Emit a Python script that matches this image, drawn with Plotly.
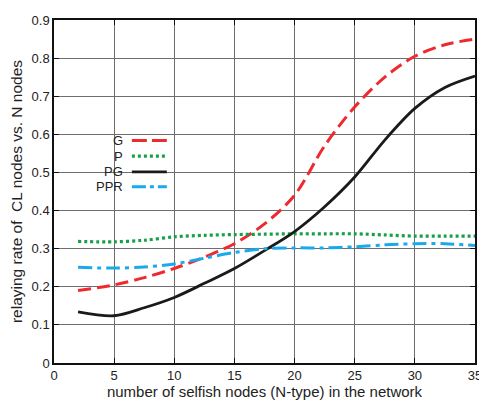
import plotly.graph_objects as go

x_vals = [2, 5, 7.5, 10, 12.5, 15, 17.5, 20, 22.5, 25, 27.5, 30, 32.5, 35]
G = [0.190, 0.205, 0.224, 0.248, 0.278, 0.313, 0.365, 0.440, 0.570, 0.672, 0.750, 0.805, 0.835, 0.850]
P = [0.319, 0.318, 0.322, 0.331, 0.335, 0.337, 0.338, 0.339, 0.339, 0.339, 0.336, 0.333, 0.333, 0.333]
PG = [0.134, 0.124, 0.145, 0.172, 0.209, 0.248, 0.295, 0.345, 0.410, 0.488, 0.585, 0.668, 0.723, 0.753]
PPR = [0.251, 0.249, 0.252, 0.260, 0.275, 0.290, 0.300, 0.302, 0.302, 0.305, 0.310, 0.313, 0.313, 0.308]

names = ["G", "P", "PG", "PPR"]
colors = ["#ee2a2f", "#17a04a", "#1a1a1a", "#19aaec"]
dashes = ["13px,6px", "3px,3px", "solid", "14px,5px,4px,5px"]
widths = [3, 3.2, 2.8, 3]
series = [G, P, PG, PPR]

fig = go.Figure()
for n, s, c, d, w in zip(names, series, colors, dashes, widths):
    fig.add_trace(go.Scatter(x=x_vals, y=s, mode="lines", name=n, showlegend=False,
                             line=dict(color=c, dash=d, width=w, shape="spline", smoothing=0.9)))

# manual legend (text left of sample line)
leg_y = [0.649, 0.603, 0.557, 0.514]
leg_dash = ["15px,5px", "3px,3px", "solid", "14px,4px,4px,4px"]
for n, c, d, w, yy in zip(names, colors, leg_dash, widths, leg_y):
    fig.add_annotation(x=0.169, y=yy, xref="paper", yref="paper", text=n, showarrow=False,
                       xanchor="right", yanchor="middle", font=dict(size=13, color="#222"))
    fig.add_shape(type="line", xref="paper", yref="paper", x0=0.185, x1=0.268, y0=yy, y1=yy,
                  line=dict(color=c, dash=d, width=w))

axis_common = dict(showline=True, linecolor="#111", linewidth=1.5, mirror="ticks",
                   showgrid=True, gridcolor="#6e6e6e", gridwidth=1,
                   ticks="inside", ticklen=5, tickcolor="#111", zeroline=False,
                   ticklabeloverflow="allow",
                   tickfont=dict(size=13, color="#222", family="Liberation Sans, Arial, sans-serif"))

fig.update_xaxes(range=[0, 35], dtick=5, tick0=0,
                 title=dict(text="number of selfish nodes (N-type) in the network", standoff=3,
                            font=dict(size=15, color="#222")), **axis_common)
fig.update_yaxes(range=[0, 0.9], dtick=0.1, tick0=0, tickformat=".1~f",
                 title=dict(text="relaying rate of&nbsp;&nbsp;CL nodes vs. N nodes", standoff=6,
                            font=dict(size=15.5, color="#222")), **axis_common)

# page body has an 8px margin, so the figure is sized/offset accordingly
fig.update_layout(width=479, height=396, margin=dict(l=46, r=7, t=5, b=41),
                  plot_bgcolor="white", paper_bgcolor="white",
                  font=dict(family="Liberation Sans, Arial, sans-serif", color="#222"))

fig.write_html("out.html")
